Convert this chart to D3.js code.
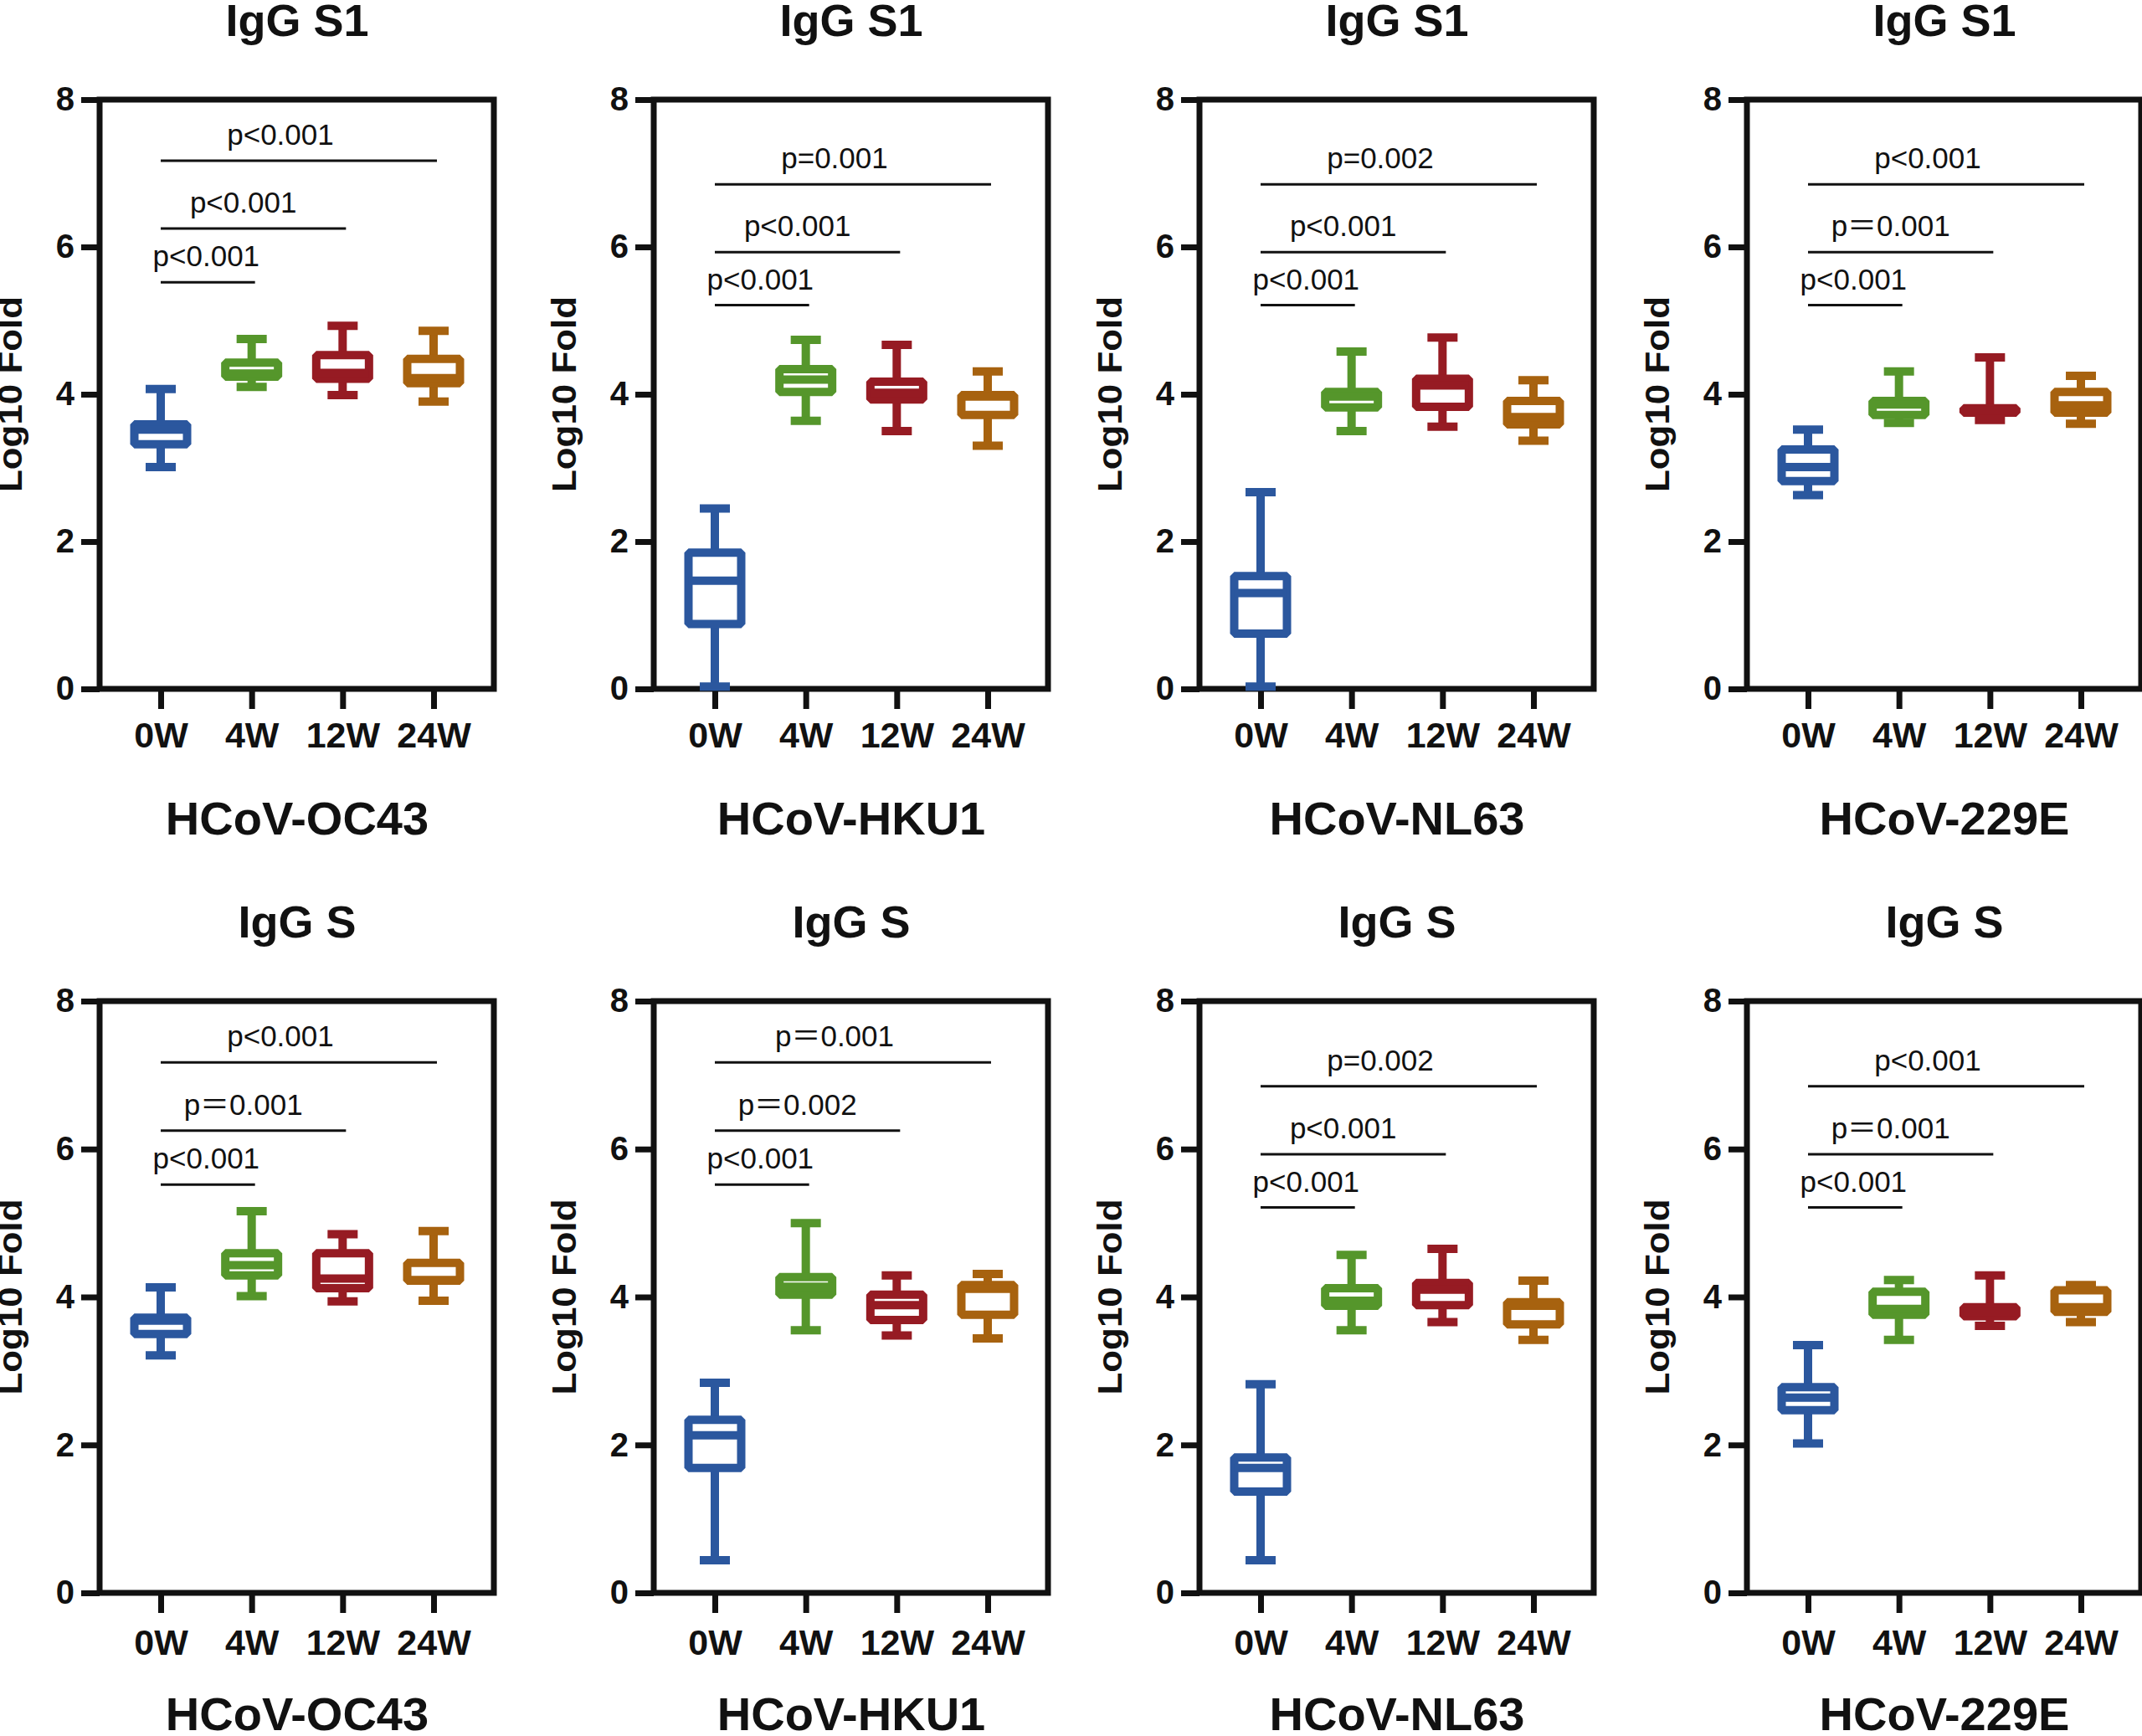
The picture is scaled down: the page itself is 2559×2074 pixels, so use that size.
<!DOCTYPE html>
<html>
<head>
    <meta charset="UTF-8">
    <title>IgG fold change</title>
    <script src="https://d3js.org/d3.v7.min.js"></script>
    <style>
        body { margin: 0; background: #ffffff; }
        svg { display: block; }
        text { font-family: 'Liberation Sans', Arial, 'Noto Sans CJK SC', sans-serif; fill: #111; }
        .bold { font-weight: bold; }
    </style>
</head>
<body>
    <svg id="chart"></svg>

    <script>
        // categories
        const groups = ['0W', '4W', '12W', '24W'];
        const viruses = ['HCoV-OC43', 'HCoV-HKU1', 'HCoV-NL63', 'HCoV-229E'];
        const antigens = ['IgG S1', 'IgG S'];
        const yTicks = [0, 2, 4, 6, 8];
        const groupColors = ['#2b579e', '#55962b', '#961b23', '#a7620f'];

        // each box: [min, q1, median, q3, max] in Log10 Fold
        const s1OC43 = [[3.01, 3.32, 3.52, 3.59, 4.07], [4.10, 4.24, 4.28, 4.43, 4.75], [3.99, 4.21, 4.29, 4.53, 4.93], [3.90, 4.15, 4.22, 4.48, 4.86]];
        const s1HKU1 = [[0.03, 0.88, 1.47, 1.85, 2.45], [3.64, 4.03, 4.20, 4.34, 4.74], [3.50, 3.93, 4.02, 4.17, 4.67], [3.30, 3.72, 3.97, 3.99, 4.31]];
        const s1NL63 = [[0.03, 0.75, 1.30, 1.53, 2.67], [3.50, 3.82, 3.97, 4.03, 4.58], [3.56, 3.83, 4.12, 4.21, 4.77], [3.37, 3.59, 3.69, 3.91, 4.19]];
        const s1229E = [[2.63, 2.82, 3.01, 3.25, 3.52], [3.61, 3.72, 3.86, 3.91, 4.31], [3.65, 3.75, 3.78, 3.81, 4.50], [3.60, 3.75, 3.85, 4.03, 4.25]];

        const sOC43 = [[3.21, 3.50, 3.68, 3.72, 4.13], [4.01, 4.29, 4.43, 4.59, 5.16], [3.94, 4.12, 4.25, 4.59, 4.85], [3.95, 4.22, 4.23, 4.46, 4.89]];
        const sHKU1 = [[0.44, 1.69, 2.13, 2.34, 2.84], [3.55, 4.03, 4.14, 4.27, 5.00], [3.48, 3.69, 3.89, 4.03, 4.29], [3.44, 3.76, 4.11, 4.16, 4.31]];
        const sNL63 = [[0.44, 1.37, 1.69, 1.83, 2.82], [3.55, 3.88, 3.95, 4.12, 4.57], [3.66, 3.89, 4.10, 4.19, 4.65], [3.42, 3.63, 3.88, 3.93, 4.22]];
        const s229E = [[2.02, 2.47, 2.64, 2.78, 3.35], [3.42, 3.76, 3.84, 4.07, 4.23], [3.61, 3.74, 3.80, 3.86, 4.29], [3.66, 3.80, 3.86, 4.09, 4.16]];

        // comparisons 0W vs 4W, 12W, 24W: p value label and bar height (Log10 Fold)
        const s1OC43P = ['p<0.001', 'p<0.001', 'p<0.001'];
        const s1HKU1P = ['p<0.001', 'p<0.001', 'p=0.001'];
        const s1NL63P = ['p<0.001', 'p<0.001', 'p=0.002'];
        const s1229EP = ['p<0.001', 'p＝0.001', 'p<0.001'];
        const sOC43P = ['p<0.001', 'p＝0.001', 'p<0.001'];
        const sHKU1P = ['p<0.001', 'p＝0.002', 'p＝0.001'];
        const sNL63P = ['p<0.001', 'p<0.001', 'p=0.002'];
        const s229EP = ['p<0.001', 'p＝0.001', 'p<0.001'];

        const barsHigh = [5.52, 6.25, 7.17];
        const barsLow = [5.21, 5.93, 6.85];

        const panels = [
            { row: 0, col: 0, boxes: s1OC43, p: s1OC43P, bars: barsHigh },
            { row: 0, col: 1, boxes: s1HKU1, p: s1HKU1P, bars: barsLow },
            { row: 0, col: 2, boxes: s1NL63, p: s1NL63P, bars: barsLow },
            { row: 0, col: 3, boxes: s1229E, p: s1229EP, bars: barsLow },
            { row: 1, col: 0, boxes: sOC43, p: sOC43P, bars: barsHigh },
            { row: 1, col: 1, boxes: sHKU1, p: sHKU1P, bars: barsHigh },
            { row: 1, col: 2, boxes: sNL63, p: sNL63P, bars: barsLow },
            { row: 1, col: 3, boxes: s229E, p: s229EP, bars: barsLow }
        ];

        // layout
        const W = 2559, H = 2074;
        const colLeft = [119, 781, 1433, 2087];
        const plotW = 471;
        const rowTop = [119, 1196];
        const rowBottom = [823, 1903];
        const tickLabelDy = [70, 74];
        const nameDy = [174, 164];
        const boxW = 63, capW = 36, lw = 10;

        const svg = d3.select('#chart').attr('width', W).attr('height', H);

        panels.forEach(pn => {
            const left = colLeft[pn.col];
            const y0 = rowBottom[pn.row], y8 = rowTop[pn.row];
            const g = svg.append('g');

            const x = d3.scalePoint().domain(groups).range([left + 73, left + 399]);
            const y = d3.scaleLinear().domain([0, 8]).range([y0, y8]);

            // frame
            g.append('rect')
                .attr('x', left).attr('y', y8)
                .attr('width', plotW).attr('height', y0 - y8)
                .attr('fill', 'none').attr('stroke', '#111').attr('stroke-width', 7);

            // y axis
            const yAxis = g.append('g')
                .attr('transform', `translate(${left},0)`)
                .call(d3.axisLeft(y).tickValues(yTicks).tickSize(22).tickPadding(8));
            yAxis.select('.domain').remove();
            yAxis.selectAll('line').attr('stroke', '#111').attr('stroke-width', 7);
            yAxis.selectAll('text')
                .attr('class', 'bold')
                .style('font-size', '40px')
                .attr('fill', '#111');

            // x axis
            const xAxis = g.append('g')
                .attr('transform', `translate(0,${y0})`)
                .call(d3.axisBottom(x).tickSize(24).tickPadding(0));
            xAxis.select('.domain').remove();
            xAxis.selectAll('line').attr('stroke', '#111').attr('stroke-width', 7);
            xAxis.selectAll('text')
                .attr('class', 'bold')
                .attr('dy', null)
                .attr('y', tickLabelDy[pn.row])
                .style('font-size', '43px')
                .attr('fill', '#111');

            // titles
            g.append('text')
                .attr('class', 'bold')
                .attr('x', left + 236).attr('y', y8 - 76)
                .attr('text-anchor', 'middle')
                .style('font-size', '54px')
                .text(antigens[pn.row]);

            g.append('text')
                .attr('class', 'bold')
                .attr('x', left + 236).attr('y', y0 + nameDy[pn.row])
                .attr('text-anchor', 'middle')
                .style('font-size', '56px')
                .text(viruses[pn.col]);

            g.append('text')
                .attr('class', 'bold')
                .attr('transform', `translate(${left - 93},${(y0 + y8) / 2}) rotate(-90)`)
                .attr('text-anchor', 'middle')
                .attr('textLength', 234)
                .attr('lengthAdjust', 'spacingAndGlyphs')
                .style('font-size', '41px')
                .text('Log10 Fold');

            // boxes
            const bx = g.selectAll('.box')
                .data(pn.boxes)
                .enter().append('g')
                .attr('class', 'box')
                .attr('stroke', (d, i) => groupColors[i])
                .attr('stroke-width', lw)
                .attr('fill', 'none');

            bx.append('line')
                .attr('x1', (d, i) => x(groups[i])).attr('x2', (d, i) => x(groups[i]))
                .attr('y1', d => y(d[4])).attr('y2', d => y(d[3]));
            bx.append('line')
                .attr('x1', (d, i) => x(groups[i])).attr('x2', (d, i) => x(groups[i]))
                .attr('y1', d => y(d[1])).attr('y2', d => y(d[0]));
            bx.append('line')
                .attr('x1', (d, i) => x(groups[i]) - capW / 2).attr('x2', (d, i) => x(groups[i]) + capW / 2)
                .attr('y1', d => y(d[4])).attr('y2', d => y(d[4]));
            bx.append('line')
                .attr('x1', (d, i) => x(groups[i]) - capW / 2).attr('x2', (d, i) => x(groups[i]) + capW / 2)
                .attr('y1', d => y(d[0])).attr('y2', d => y(d[0]));
            bx.append('rect')
                .attr('x', (d, i) => x(groups[i]) - boxW / 2)
                .attr('y', d => y(d[3]))
                .attr('width', boxW)
                .attr('height', d => y(d[1]) - y(d[3]))
                .attr('fill', '#fff')
                .attr('stroke-linejoin', 'bevel');
            bx.append('line')
                .attr('x1', (d, i) => x(groups[i]) - boxW / 2).attr('x2', (d, i) => x(groups[i]) + boxW / 2)
                .attr('y1', d => y(d[2])).attr('y2', d => y(d[2]));

            // significance bars
            const sig = g.selectAll('.sig')
                .data(pn.p)
                .enter().append('g')
                .attr('class', 'sig');

            sig.append('line')
                .attr('x1', x(groups[0]))
                .attr('x2', (d, i) => x(groups[i + 1]) + 4)
                .attr('y1', (d, i) => y(pn.bars[i]))
                .attr('y2', (d, i) => y(pn.bars[i]))
                .attr('stroke', '#111')
                .attr('stroke-width', 3);

            sig.append('text')
                .attr('x', (d, i) => (x(groups[0]) + x(groups[i + 1])) / 2 - i * 10)
                .attr('y', (d, i) => y(pn.bars[i]) - 19)
                .attr('text-anchor', 'middle')
                .style('font-size', '35px')
                .text(d => d);
        });
    </script>
</body>
</html>
